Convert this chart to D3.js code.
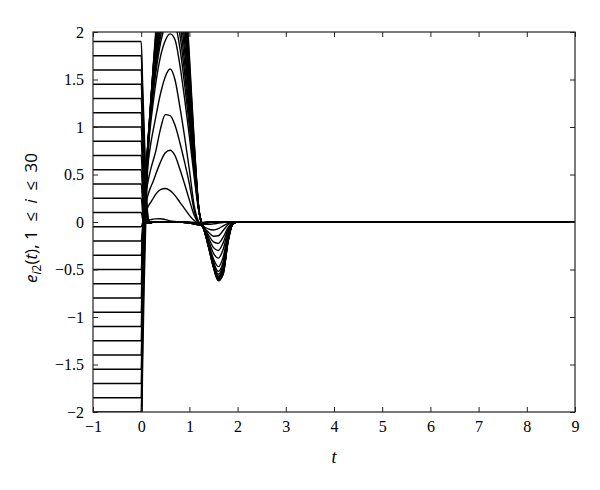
<!DOCTYPE html>
<html><head><meta charset="utf-8">
<script src="https://cdn.jsdelivr.net/npm/d3@7"></script>
<style>body{margin:0;background:#fff}</style>
</head><body><svg id="c" width="600" height="490"></svg>
<script>
// History (t in [-1,0]) values of the 30 agents
const historyValues = [1.9,1.75,1.6,1.45,1.3,1.15,1.0,0.85,0.7,0.55,0.4,0.25,0.1,
  -0.05,-0.2,-0.35,-0.5,-0.65,-0.8,-0.95,-1.1,-1.25,-1.4,-1.55,-1.7,-1.85,-2.0,-2.15,-2.3,-2.45];
// Sample times for t >= 0
const responseTimes = [0,0.03,0.06,0.1,0.15,0.2,0.25,0.3,0.4,0.5,0.6,0.7,0.8,0.9,1.0,1.1,1.2,1.25,1.3,1.4,1.5,1.6,1.7,1.8,1.9,2.0,9];
// Values for t >= 0, one row per agent
const responseValues = [
 [1.9,1.45,1.0,0.4,0.03,-0.01,0,0,0,0,0,0,0,-0.005,-0.01,-0.02,-0.03,-0.025,-0.015,-0.005,0,0,0,0,0,0,0],
 [1.75,1.32,0.9,0.33,0.02,-0.01,0,0,0,0,0,0,0,-0.005,-0.01,-0.02,-0.03,-0.025,-0.015,-0.005,0,0,0,0,0,0,0],
 [1.6,1.18,0.78,0.25,0.01,-0.01,0,0,0,0,0,0,0,-0.005,-0.01,-0.02,-0.03,-0.025,-0.015,-0.005,0,0,0,0,0,0,0],
 [1.45,1.05,0.66,0.18,0.0,-0.01,0,0,0,0,0,0,0,-0.005,-0.01,-0.02,-0.028,-0.024,-0.014,-0.005,0,0,0,0,0,0,0],
 [1.3,0.92,0.55,0.12,0.0,-0.01,0,0,0,0,0,0,0,-0.005,-0.01,-0.02,-0.026,-0.022,-0.013,-0.004,0,0,0,0,0,0,0],
 [1.15,0.8,0.45,0.07,-0.01,-0.01,0,0,0,0,0,0,0,-0.004,-0.01,-0.018,-0.024,-0.02,-0.012,-0.004,0,0,0,0,0,0,0],
 [1.0,0.67,0.35,0.03,-0.01,-0.01,0,0,0,0,0,0,0,-0.004,-0.009,-0.016,-0.022,-0.018,-0.011,-0.003,0,0,0,0,0,0,0],
 [0.85,0.55,0.25,0.01,-0.01,0,0,0,0,0,0,0,0,-0.003,-0.008,-0.014,-0.02,-0.016,-0.01,-0.003,0,0,0,0,0,0,0],
 [0.7,0.43,0.17,0.0,-0.01,0,0,0,0,0,0,0,0,-0.003,-0.007,-0.012,-0.018,-0.014,-0.009,-0.003,0,0,0,0,0,0,0],
 [0.55,0.32,0.1,-0.01,-0.01,0,0,0,0,0,0,0,0,-0.002,-0.006,-0.01,-0.015,-0.012,-0.008,-0.002,0,0,0,0,0,0,0],
 [0.4,0.2,0.03,-0.01,0,0,0,0,0,0,0,0,0,-0.002,-0.005,-0.008,-0.012,-0.01,-0.006,-0.002,0,0,0,0,0,0,0],
 [0.25,0.1,0.0,-0.01,0,0,0,0,0,0,0,0,0,-0.001,-0.004,-0.006,-0.01,-0.008,-0.005,-0.001,0,0,0,0,0,0,0],
 [0.1,0.03,-0.01,0,0,0,0,0,0,0,0,0,0,-0.001,-0.003,-0.005,-0.008,-0.006,-0.004,-0.001,0,0,0,0,0,0,0],
 [-0.05,-0.005,0.01,0.015,0.02,0.025,0.03,0.033,0.035,0.025,0.012,0.005,0.0,0.0,-0.005,-0.01,-0.018,-0.02,-0.022,-0.025,-0.02,-0.012,-0.005,0,0,0,0],
 [-0.2,-0.05,0.05,0.11,0.17,0.21,0.25,0.29,0.34,0.352,0.33,0.28,0.21,0.14,0.07,0.015,-0.02,-0.035,-0.05,-0.075,-0.084,-0.07,-0.04,-0.015,0,0,0],
 [-0.35,-0.08,0.08,0.2,0.3,0.37,0.43,0.5,0.63,0.73,0.755,0.7,0.56,0.4,0.23,0.07,-0.02,-0.04,-0.06,-0.11,-0.15,-0.145,-0.09,-0.03,0,0,0],
 [-0.5,-0.12,0.12,0.3,0.45,0.56,0.65,0.74,0.98,1.13,1.12,1.02,0.84,0.63,0.4,0.12,-0.01,-0.03,-0.06,-0.14,-0.21,-0.225,-0.16,-0.06,-0.01,0,0],
 [-0.65,-0.15,0.15,0.4,0.65,0.83,0.97,1.1,1.35,1.53,1.61,1.5,1.22,0.9,0.55,0.17,0.0,-0.02,-0.05,-0.17,-0.27,-0.3,-0.22,-0.08,-0.01,0,0],
 [-0.8,-0.18,0.18,0.48,0.8,1.05,1.26,1.45,1.74,1.91,1.98,1.92,1.66,1.3,0.9,0.47,0.1,0.0,-0.06,-0.2,-0.33,-0.38,-0.29,-0.1,-0.01,0,0],
 [-0.95,-0.2,0.2,0.52,0.86,1.13,1.36,1.56,1.88,2.07,2.15,2.09,1.84,1.45,1.0,0.53,0.11,0.0,-0.06,-0.23,-0.39,-0.47,-0.37,-0.13,-0.01,0,0],
 [-1.1,-0.27,0.18,0.52,0.87,1.15,1.4,1.61,1.95,2.16,2.26,2.22,1.98,1.57,1.08,0.56,0.11,0.0,-0.06,-0.24,-0.42,-0.52,-0.42,-0.15,-0.01,0,0],
 [-1.25,-0.34,0.16,0.52,0.88,1.18,1.43,1.65,2.01,2.25,2.38,2.35,2.11,1.68,1.15,0.6,0.11,0.0,-0.07,-0.24,-0.43,-0.55,-0.45,-0.16,-0.01,0,0],
 [-1.4,-0.41,0.14,0.51,0.89,1.2,1.46,1.69,2.08,2.35,2.5,2.48,2.25,1.8,1.23,0.63,0.11,0.0,-0.07,-0.25,-0.44,-0.57,-0.47,-0.17,-0.01,0,0],
 [-1.55,-0.48,0.12,0.51,0.9,1.22,1.5,1.74,2.15,2.44,2.61,2.61,2.39,1.91,1.3,0.66,0.11,-0.01,-0.07,-0.25,-0.45,-0.58,-0.49,-0.18,-0.02,0,0],
 [-1.7,-0.55,0.1,0.51,0.91,1.24,1.53,1.78,2.22,2.54,2.73,2.74,2.52,2.03,1.38,0.69,0.11,-0.01,-0.07,-0.26,-0.46,-0.59,-0.5,-0.19,-0.02,0,0],
 [-1.85,-0.62,0.08,0.51,0.92,1.27,1.56,1.82,2.28,2.63,2.84,2.87,2.66,2.14,1.45,0.73,0.12,-0.01,-0.07,-0.26,-0.46,-0.6,-0.52,-0.2,-0.02,0,0],
 [-2.0,-0.85,-0.1,0.45,0.92,1.29,1.6,1.87,2.35,2.72,2.96,3.0,2.79,2.26,1.53,0.76,0.12,-0.01,-0.08,-0.26,-0.47,-0.6,-0.53,-0.2,-0.02,0,0],
 [-2.15,-1.0,-0.25,0.38,0.88,1.29,1.62,1.91,2.42,2.81,3.07,3.13,2.93,2.37,1.6,0.79,0.12,-0.02,-0.08,-0.27,-0.47,-0.61,-0.54,-0.21,-0.02,0,0],
 [-2.3,-1.2,-0.45,0.25,0.82,1.27,1.64,1.95,2.49,2.91,3.19,3.27,3.06,2.49,1.68,0.82,0.12,-0.02,-0.08,-0.27,-0.48,-0.61,-0.55,-0.21,-0.02,0,0],
 [-2.45,-1.5,-0.7,0.1,0.75,1.25,1.65,2.0,2.55,3.0,3.3,3.4,3.2,2.6,1.75,0.85,0.12,-0.02,-0.08,-0.27,-0.48,-0.62,-0.55,-0.22,-0.02,0,0]
];
const xTicks = [-1,0,1,2,3,4,5,6,7,8,9];
const yTicks = [-2,-1.5,-1,-0.5,0,0.5,1,1.5,2];

const SERIF = "'Liberation Serif', 'Times New Roman', serif";
const SANS = "'Open Sans', 'Liberation Sans', sans-serif";

const svg = d3.select("#c");
const x = d3.scaleLinear().domain([-1, 9]).range([93, 575]);
const y = d3.scaleLinear().domain([-2, 2]).range([412, 32]);
const fmt = d3.format("~g");

svg.append("defs").append("clipPath").attr("id","clip")
  .append("rect").attr("x",x(-1)).attr("y",y(2)).attr("width",x(9)-x(-1)).attr("height",y(-2)-y(2));

const series = historyValues.map((h,i) =>
  [[-1,h]].concat(responseTimes.map((t,k)=>[t, responseValues[i][k]])));

const line = d3.line().x(d=>x(d[0])).y(d=>y(d[1])).curve(d3.curveMonotoneX);
svg.append("g").attr("clip-path","url(#clip)")
  .selectAll("path").data(series).join("path")
  .attr("d", line).attr("fill","none").attr("stroke","#000").attr("stroke-width",1.4);

const tickFont = g => g.selectAll("text")
  .style("font-family", SERIF).style("font-size","16px").attr("fill","#000");
const styleAxis = g => { g.select(".domain").remove(); g.selectAll("line").attr("stroke","#222").attr("stroke-width",1); };

svg.append("g").attr("transform",`translate(0,${y(-2)})`)
  .call(d3.axisBottom(x).tickValues(xTicks).tickFormat(fmt).tickSizeInner(-5).tickSizeOuter(0).tickPadding(9))
  .call(styleAxis).call(tickFont);
svg.append("g").attr("transform",`translate(0,${y(2)})`)
  .call(d3.axisTop(x).tickValues(xTicks).tickFormat("").tickSizeInner(-5).tickSizeOuter(0))
  .call(styleAxis);
svg.append("g").attr("transform",`translate(${x(-1)},0)`)
  .call(d3.axisLeft(y).tickValues(yTicks).tickFormat(fmt).tickSizeInner(-5).tickSizeOuter(0).tickPadding(9))
  .call(styleAxis).call(tickFont);
svg.append("g").attr("transform",`translate(${x(9)},0)`)
  .call(d3.axisRight(y).tickValues(yTicks).tickFormat("").tickSizeInner(-5).tickSizeOuter(0))
  .call(styleAxis);

svg.append("rect").attr("x",x(-1)).attr("y",y(2)).attr("width",x(9)-x(-1)).attr("height",y(-2)-y(2))
  .attr("fill","none").attr("stroke","#222").attr("stroke-width",1.2);

svg.append("text").attr("x",(x(-1)+x(9))/2).attr("y",463).attr("text-anchor","middle")
  .style("font-family", SERIF).style("font-style","italic").style("font-size","18px").text("t");

const yl = svg.append("text").attr("transform","translate(37,218) rotate(-90)").attr("text-anchor","middle")
  .style("font-family", SANS).style("font-size","17px").attr("fill","#000");
yl.append("tspan").style("font-style","italic").text("e");
yl.append("tspan").style("font-style","italic").style("font-size","12px").attr("dy",4).text("i");
yl.append("tspan").style("font-size","12px").text("2");
yl.append("tspan").attr("dy",-4).text("(");
yl.append("tspan").style("font-style","italic").text("t");
yl.append("tspan").text("), 1\u2002\u2264\u2002");
yl.append("tspan").style("font-style","italic").text("i");
yl.append("tspan").text("\u2002\u2264\u200230");
</script></body></html>
